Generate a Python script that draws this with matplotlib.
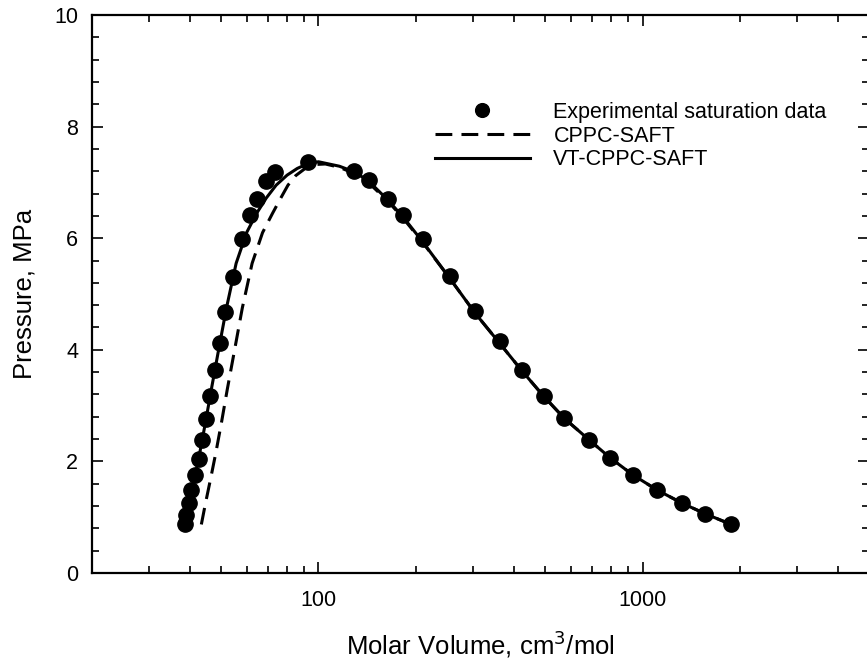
import numpy as np
import matplotlib
matplotlib.use('Agg')
from matplotlib import pyplot as plt
from matplotlib.ticker import LogLocator, FixedLocator, NullFormatter, MultipleLocator

plt.rcParams['font.family'] = ['Liberation Sans', 'DejaVu Sans']

# Experimental saturation data (liquid and vapour branches)
exp_volume = [38.6, 39.1, 39.8, 40.5, 41.7, 42.7, 43.8, 45.0, 46.3, 47.8,
              49.5, 51.5, 54.4, 58.0, 61.4, 64.7, 69.0, 73.2, 93.1,
              129.0, 143.0, 163.6, 182.8, 210.0, 255.0, 304.6, 362.0, 425.0,
              495.0, 574.0, 683.0, 796.0, 933.0, 1107.0, 1326.0, 1564.0, 1878.0]
exp_pressure = [0.87, 1.04, 1.25, 1.49, 1.75, 2.05, 2.39, 2.76, 3.18, 3.64,
                4.13, 4.68, 5.30, 5.98, 6.41, 6.71, 7.03, 7.19, 7.37,
                7.20, 7.04, 6.71, 6.41, 5.98, 5.32, 4.69, 4.15, 3.64,
                3.18, 2.78, 2.39, 2.06, 1.76, 1.49, 1.25, 1.06, 0.87]

# CPPC-SAFT model
cppc_volume = [43.5, 44.8, 46.5, 48.2, 50.2, 52.3, 54.9, 58.2, 62.4, 67.2,
               72.2, 76.5, 80.5, 85.0, 90.5, 97.0, 105.0, 116.0, 129.0, 143.0,
               164.0, 183.0, 210.0, 255.0, 305.0, 362.0, 425.0, 495.0, 574.0,
               683.0, 796.0, 933.0, 1107.0, 1326.0, 1564.0, 1878.0]
cppc_pressure = [0.87, 1.25, 1.70, 2.15, 2.70, 3.29, 3.95, 4.75, 5.55, 6.10,
                 6.45, 6.72, 6.95, 7.12, 7.24, 7.32, 7.33, 7.27, 7.16, 6.99,
                 6.66, 6.35, 5.92, 5.27, 4.65, 4.12, 3.62, 3.17, 2.77,
                 2.39, 2.06, 1.76, 1.49, 1.25, 1.06, 0.87]

# VT-CPPC-SAFT model
vt_volume = [38.8, 40.0, 41.5, 43.0, 44.8, 46.7, 49.0, 52.0, 55.7, 60.0,
             64.5, 69.0, 74.0, 80.0, 86.0, 93.0, 100.0, 116.0, 129.0, 143.0,
             164.0, 183.0, 210.0, 255.0, 305.0, 362.0, 425.0, 495.0, 574.0,
             683.0, 796.0, 933.0, 1107.0, 1326.0, 1564.0, 1878.0]
vt_pressure = [0.87, 1.25, 1.70, 2.15, 2.70, 3.29, 3.95, 4.75, 5.55, 6.10,
               6.45, 6.72, 6.95, 7.13, 7.25, 7.34, 7.37, 7.29, 7.19, 7.02,
               6.68, 6.37, 5.93, 5.27, 4.65, 4.12, 3.62, 3.17, 2.77,
               2.39, 2.06, 1.76, 1.49, 1.25, 1.06, 0.87]

W, H = 867, 664
fig = plt.figure(figsize=(W / 100, H / 100), dpi=100)
ax = fig.add_axes([92 / W, (H - 573) / H, (869 - 92) / W, (573 - 15) / H])

ax.plot(exp_volume, exp_pressure, 'o', color='black', ms=11,
        label='Experimental saturation data', zorder=3)
ax.plot(cppc_volume, cppc_pressure, color='black', lw=2.2, dashes=(5.5, 3),
        label='CPPC-SAFT')
ax.plot(vt_volume, vt_pressure, color='black', lw=2.2, label='VT-CPPC-SAFT')

ax.set_xscale('log')
ax.set_xlim(20, 5000)
ax.set_ylim(0, 10)

ax.xaxis.set_major_locator(FixedLocator([100, 1000]))
ax.xaxis.set_major_formatter(plt.FuncFormatter(lambda v, p: '%d' % v))
ax.xaxis.set_minor_locator(LogLocator(base=10, subs=np.arange(2, 10)))
ax.xaxis.set_minor_formatter(NullFormatter())
ax.yaxis.set_major_locator(MultipleLocator(2))
ax.yaxis.set_minor_locator(MultipleLocator(0.4))

for s in ax.spines.values():
    s.set_linewidth(1.6)
ax.tick_params(which='both', direction='in', top=True, right=True,
               labelsize=15.5, width=1.2)
ax.tick_params(which='major', length=8)
ax.tick_params(which='minor', length=5)
ax.tick_params(axis='x', which='major', pad=12)
ax.tick_params(axis='y', which='major', pad=10)

ax.set_xlabel('Molar Volume, cm$^3$/mol', fontsize=18.5, labelpad=13)
ax.set_ylabel('Pressure, MPa', fontsize=18.5, labelpad=13)

leg = ax.legend(loc='upper left', bbox_to_anchor=(435 / W, 1 - 102 / H),
                bbox_transform=fig.transFigure, frameon=False, fontsize=15.5,
                handlelength=4.4, handletextpad=1.1, labelspacing=0.12,
                borderpad=0, borderaxespad=0, numpoints=1, markerscale=0.9)

fig.savefig('out.png', dpi=100)
